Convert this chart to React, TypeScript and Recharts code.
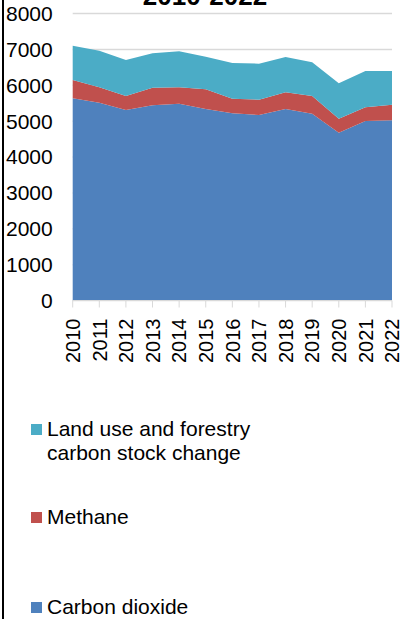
import React from "react";
import { AreaChart, Area, XAxis, YAxis, CartesianGrid } from "recharts";

const years = ["2010", "2011", "2012", "2013", "2014", "2015", "2016", "2017", "2018", "2019", "2020", "2021", "2022"];
const carbonDioxide = [5636, 5514, 5310, 5441, 5486, 5338, 5218, 5171, 5338, 5207, 4677, 5003, 5023];
const methane = [510, 428, 390, 491, 456, 549, 407, 426, 465, 493, 391, 382, 435];
const landUse = [956, 1021, 1004, 958, 1004, 909, 995, 1004, 984, 940, 986, 1012, 939];
const yTicks = [0, 1000, 2000, 3000, 4000, 5000, 6000, 7000, 8000];

const series = [
  { key: "co2", name: "Carbon dioxide", color: "#4F81BD" },
  { key: "ch4", name: "Methane", color: "#C0504D" },
  { key: "land", name: "Land use and forestry carbon stock change", color: "#4BACC6" },
];

const data = years.map((year, i) => ({
  year,
  co2: carbonDioxide[i],
  ch4: methane[i],
  land: landUse[i],
}));

const FONT = "'Liberation Sans', Arial, sans-serif";

const YearTick = (props: any) => {
  const { x, y, payload } = props;
  return (
    <text
      x={0}
      y={0}
      dy="0.36em"
      transform={`translate(${x},${y}) rotate(-90)`}
      textAnchor="end"
      fontSize={20}
      fontFamily={FONT}
      fill="#000"
    >
      {payload.value}
    </text>
  );
};

// legend rows, top to bottom (reverse of stacking)
const legendTop = [417, 505, 595];

export default function App() {
  return (
    <div style={{ position: "absolute", left: 0, top: 0, width: 401, height: 619, background: "#fff", overflow: "hidden", fontFamily: FONT }}>
      <div style={{ position: "absolute", left: 2, top: 0, width: 2, height: 619, background: "#000" }} />
      <AreaChart width={401} height={400} data={data} margin={{ top: 13.5, right: 9, left: 0, bottom: 0 }}>
        <text x={205} y={5} textAnchor="middle" fontSize={26} fontWeight="bold" fontFamily={FONT} fill="#000">
          2010-2022
        </text>
        <CartesianGrid vertical={false} stroke="#D9D9D9" strokeWidth={1.5} />
        <XAxis
          dataKey="year"
          height={99.5}
          interval={0}
          stroke="#D9D9D9"
          tickSize={7}
          tickMargin={11}
          tick={<YearTick />}
        />
        <YAxis
          width={72.7}
          domain={[0, 8000]}
          ticks={yTicks}
          axisLine={false}
          tickLine={false}
          tickMargin={14}
          tick={{ fontSize: 21, fill: "#000", fontFamily: FONT }}
        />
        {series.map((s) => (
          <Area
            key={s.key}
            type="linear"
            dataKey={s.key}
            name={s.name}
            stackId="1"
            stroke="none"
            fill={s.color}
            fillOpacity={1}
            isAnimationActive={false}
          />
        ))}
      </AreaChart>
      {[...series].reverse().map((s, i) => (
        <div key={s.key} style={{ position: "absolute", left: 31, top: legendTop[i], display: "flex", alignItems: "flex-start" }}>
          <div style={{ width: 11, height: 11, background: s.color, marginTop: 7, marginRight: 5 }} />
          <div style={{ width: 230, fontSize: 21, lineHeight: "24px", color: "#000" }}>{s.name}</div>
        </div>
      ))}
    </div>
  );
}
